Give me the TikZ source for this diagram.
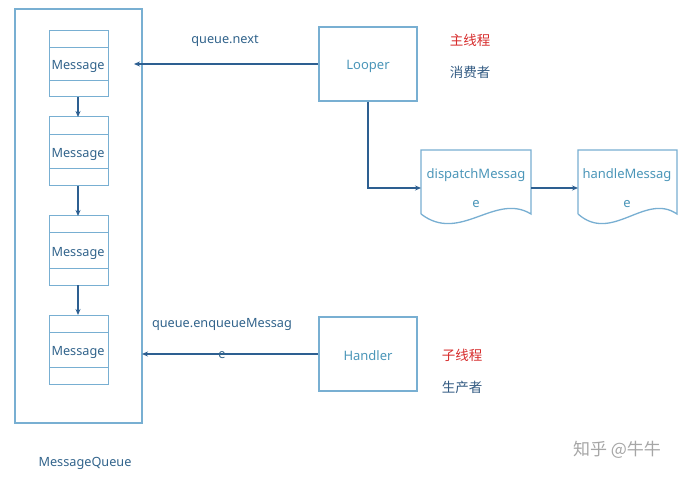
\documentclass[tikz,border=0pt]{standalone}
\usepackage{fontspec}
\setmainfont{Noto Sans}
\newfontfamily\cjk{Noto Sans CJK SC}
\usetikzlibrary{arrows.meta}
\definecolor{boxline}{RGB}{120,175,210}
\definecolor{msgtext}{RGB}{50,100,140}
\definecolor{lighttext}{RGB}{75,150,185}
\definecolor{arrowc}{RGB}{45,95,145}
\definecolor{redc}{RGB}{215,45,45}
\definecolor{darkc}{RGB}{50,90,130}
\tikzset{
  boxst/.style={draw=boxline, line width=1.3pt},
  conn/.style={draw=arrowc, line width=1.1pt, -{Stealth[length=6pt,width=5pt]}},
  msglabel/.style={text=msgtext, font=\fontsize{12.7}{15}\selectfont, inner sep=0pt},
  lightlabel/.style={text=lighttext, font=\fontsize{13}{15}\selectfont, inner sep=0pt},
  cnred/.style={text=redc, font=\cjk\fontsize{13.5}{16}\selectfont, inner sep=0pt},
  cndark/.style={text=darkc, font=\cjk\fontsize{13.5}{16}\selectfont, inner sep=0pt},
}
\begin{document}
\begin{tikzpicture}[x=1pt,y=-1pt]
\useasboundingbox (0,0) rectangle (690,478);
\fill[white] (0,0) rectangle (690,478);
% outer queue
\draw[boxst] (15,9) rectangle (142,423);
\coordinate (qin1) at (134,64);
\coordinate (qin2) at (142,354);
% message boxes
\foreach \i/\t/\a/\b/\bt in {1/31/48/81/97, 2/117/135/169/186, 3/216/233/268/285, 4/315/332/367/384}{
  \draw[boxst, line width=1pt] (49,\t) rectangle (108,\bt);
  \draw[boxst, line width=1pt] (49,\a) -- (108,\a) (49,\b) -- (108,\b);
  \coordinate (m\i top) at (78,\t);
  \coordinate (m\i bot) at (78,\bt);
}
\node[msglabel] (msg1) at (78,66) {Message};
\node[msglabel] (msg2) at (78,154) {Message};
\node[msglabel] (msg3) at (78,253) {Message};
\node[msglabel] (msg4) at (78,352) {Message};
\draw[conn] (m1bot) -- (m2top);
\draw[conn] (m2bot) -- (m3top);
\draw[conn] (m3bot) -- (m4top);
\node[msglabel] (mq) at (85,463) {MessageQueue};
% Looper
\node[boxst, minimum width=98pt, minimum height=74pt, inner sep=0pt] (looper) at (368,64) {};
\node[lightlabel] at (368,66) {Looper};
\draw[conn] (looper.west) -- (qin1);
\node[msglabel] (qnext) at (225,41) {queue.next};
\node[cnred] (zhu) at (470,40) {主线程};
\node[cndark] (xiao) at (470,72) {消费者};
% documents
\coordinate (d1w) at (421,188);
\coordinate (d1e) at (531,188);
\draw[boxst] (421,214) -- (421,150) -- (531,150) -- (531,214)
  .. controls (495,192) and (460,244) .. (421,214);
\node[lightlabel] (disp) at (476,175) {dispatchMessag};
\node[lightlabel] (disp2) at (476,204) {e};
\coordinate (d2w) at (578,188);
\draw[boxst] (578,214) -- (578,150) -- (677,150) -- (677,214)
  .. controls (645,192) and (612,244) .. (578,214);
\node[lightlabel] (hand) at (627,175) {handleMessag};
\node[lightlabel] (hand2) at (627,204) {e};
\draw[conn] (looper.south) |- (d1w);
\draw[conn] (d1e) -- (d2w);
% Handler
\node[boxst, minimum width=98pt, minimum height=74pt, inner sep=0pt] (handler) at (368,354) {};
\node[lightlabel] at (368,356) {Handler};
\draw[conn] (handler.west) -- (qin2);
\node[msglabel] (enq) at (222,324) {queue.enqueueMessag};
\node[msglabel] (enq2) at (222,355) {e};
\node[cnred] (zi) at (462,355) {子线程};
\node[cndark] (sheng) at (462,387) {生产者};
% watermark
\node[text=black!35, font=\cjk\fontsize{17}{19}\selectfont, inner sep=0pt] (wm) at (617,450) {知乎 @牛牛};
\end{tikzpicture}
\end{document}
